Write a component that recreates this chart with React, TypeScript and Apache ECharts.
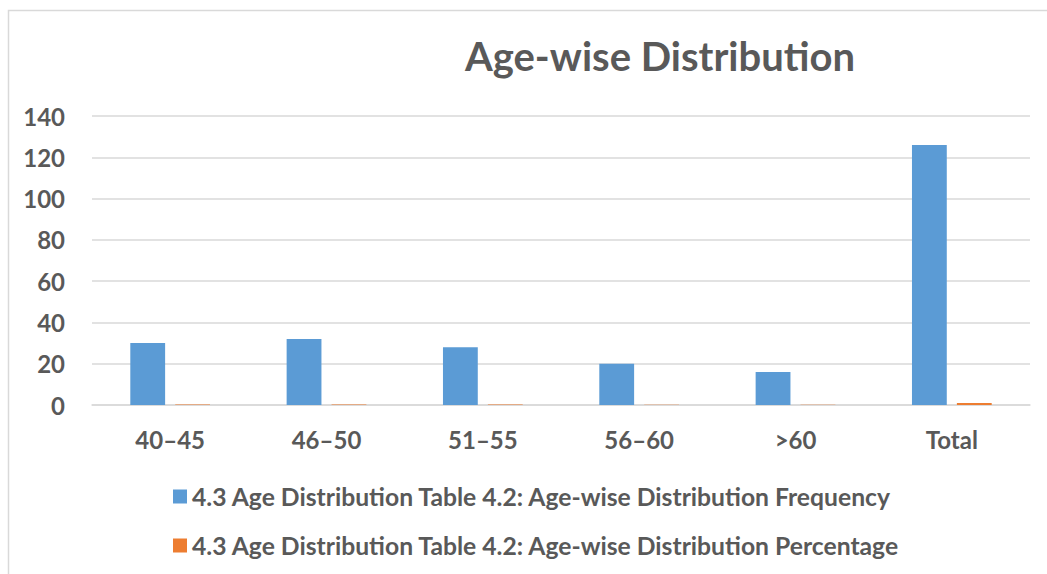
import React, { useEffect, useRef } from "react";
import * as echarts from "echarts";

const categories = ["40–45", "46–50", "51–55", "56–60", ">60", "Total"];
const frequency = [30, 32, 28, 20, 16, 126];
const percentage = [0.238, 0.254, 0.222, 0.159, 0.127, 1];
const seriesNames = [
  "4.3 Age Distribution Table 4.2: Age-wise Distribution Frequency",
  "4.3 Age Distribution Table 4.2: Age-wise Distribution Percentage",
];
const titleText = "Age-wise Distribution";

const FONT = "Lato, 'Open Sans', sans-serif";
const TEXT = "#595959";

export default function App() {
  const ref = useRef<HTMLDivElement>(null);
  useEffect(() => {
    const chart = echarts.init(ref.current!, null, { renderer: "svg" });
    chart.setOption({
      animation: false,
      backgroundColor: "#ffffff",
      title: {
        text: titleText,
        left: 655,
        top: 31,
        textAlign: "center",
        textStyle: { fontFamily: FONT, fontWeight: "bold", fontSize: 40, color: TEXT },
      },
      graphic: [
        {
          type: "rect",
          shape: { x: 8.5, y: 10.5, width: 1100, height: 700 },
          style: { fill: "none", stroke: "#d9d9d9", lineWidth: 1.5 },
          silent: true,
        },
      ],
      legend: {
        orient: "vertical",
        left: 168,
        top: 479,
        itemWidth: 14,
        itemHeight: 14,
        itemGap: 24,
        icon: "rect",
        textStyle: { fontFamily: FONT, fontWeight: "bold", fontSize: 24.7, color: TEXT },
        data: seriesNames,
      },
      grid: { left: 92, right: 17, top: 116, bottom: 169 },
      xAxis: {
        type: "category",
        data: categories,
        axisLine: { lineStyle: { color: "#d9d9d9", width: 1.5 } },
        axisTick: { show: false },
        axisLabel: { fontFamily: FONT, fontWeight: "bold", fontSize: 24, color: TEXT, margin: 22 },
      },
      yAxis: {
        type: "value",
        min: 0,
        max: 140,
        interval: 20,
        axisLine: { show: false },
        axisTick: { show: false },
        splitLine: { lineStyle: { color: "#d9d9d9", width: 1.5 } },
        axisLabel: { fontFamily: FONT, fontWeight: "bold", fontSize: 24, color: TEXT, margin: 27 },
      },
      series: [
        {
          name: seriesNames[0],
          type: "bar",
          data: frequency,
          itemStyle: { color: "#5b9bd5" },
          barGap: "29%",
          barCategoryGap: "49%",
        },
        {
          name: seriesNames[1],
          type: "bar",
          data: percentage,
          itemStyle: { color: "#ed7d31" },
        },
      ],
    });
    return () => chart.dispose();
  }, []);
  return (
    <div
      ref={ref}
      style={{ position: "fixed", left: 0, top: 0, width: 1047, height: 574 }}
    />
  );
}
